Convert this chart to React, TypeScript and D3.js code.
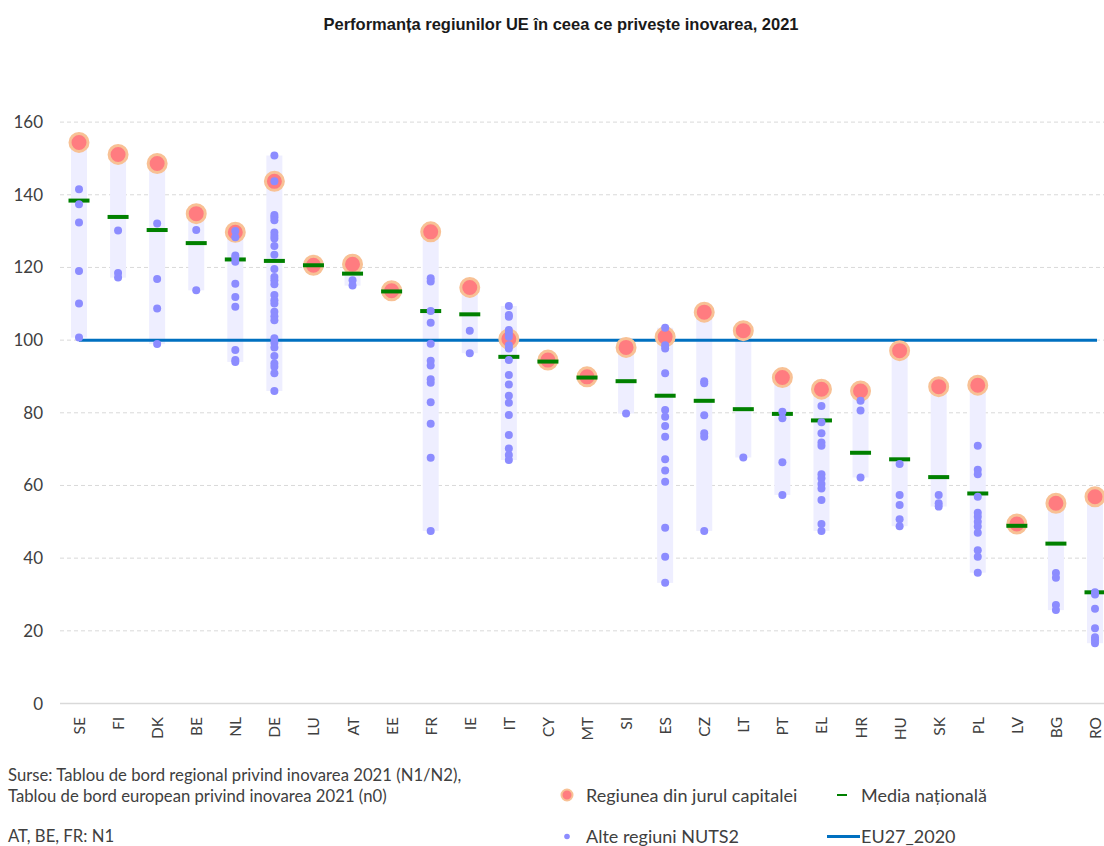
import * as React from "react"
import * as d3 from "d3"

// EU regional innovation performance 2021
const countries = ["SE", "FI", "DK", "BE", "NL", "DE", "LU", "AT", "EE", "FR", "IE", "IT", "CY", "MT",
    "SI", "ES", "CZ", "LT", "PT", "EL", "HR", "HU", "SK", "PL", "LV", "BG", "RO"]

const capitalRegion = [154.4, 151.1, 148.6, 134.8, 129.7, 143.7, 120.6, 120.9, 113.6, 129.8, 114.5, 100.3,
    94.5, 89.9, 98.0, 100.9, 107.7, 102.6, 89.7, 86.5, 86.0, 97.1, 87.2, 87.6, 49.4, 55.1, 56.9]

const nationalAverage = [138.4, 133.9, 130.3, 126.7, 122.2, 121.8, 120.6, 118.3, 113.4, 108.0, 107.1, 95.4,
    94.1, 89.7, 88.7, 84.7, 83.3, 81.0, 79.7, 77.9, 69.0, 67.2, 62.3, 57.8, 48.9, 44.0, 30.6]

const otherRegions: number[][] = [
    [141.5, 137.4, 132.4, 119.0, 110.1, 100.7],
    [130.2, 118.5, 117.2],
    [132.1, 116.8, 108.7, 98.9],
    [130.3, 113.7],
    [130.0, 128.3, 123.3, 122.6, 121.6, 115.5, 111.9, 109.2, 97.3, 94.5, 94.0],
    [150.8, 143.7, 134.4, 133.8, 133.0, 129.6, 128.7, 128.0, 125.9, 123.5, 119.6, 117.4, 116.5, 115.4,
        112.4, 111.0, 110.1, 107.8, 106.6, 105.5, 100.5, 99.3, 98.0, 95.6, 93.6, 92.7, 90.9, 86.0],
    [],
    [116.5, 115.0],
    [],
    [117.0, 116.1, 108.0, 104.8, 99.0, 94.3, 93.0, 89.2, 88.3, 82.9, 77.0, 67.6, 47.5],
    [102.6, 96.4],
    [109.4, 106.9, 106.4, 102.8, 101.9, 100.9, 98.6, 97.7, 94.5, 90.4, 87.8, 84.7, 82.8, 79.4, 73.9,
        70.2, 68.4, 67.0],
    [],
    [],
    [79.8],
    [103.4, 98.6, 97.7, 90.9, 80.8, 78.9, 76.4, 73.4, 67.2, 64.1, 61.0, 48.4, 40.4, 33.2],
    [88.7, 88.1, 79.3, 74.4, 73.4, 47.5],
    [67.7],
    [80.3, 78.5, 66.4, 57.4],
    [81.9, 77.4, 74.4, 71.8, 70.9, 63.1, 62.0, 60.4, 59.2, 56.0, 49.4, 47.5],
    [83.3, 80.6, 62.2],
    [65.9, 57.4, 54.6, 50.7, 48.8],
    [57.4, 55.1, 54.2],
    [70.9, 64.3, 63.1, 56.9, 52.5, 51.4, 50.0, 48.7, 47.0, 42.2, 40.4, 36.0],
    [],
    [35.9, 34.6, 27.1, 25.7],
    [30.6, 30.0, 26.1, 20.7, 18.2, 17.5, 16.6],
]

const yTicks = [0, 20, 40, 60, 80, 100, 120, 140, 160]
const euAverage = 100

const legendItems = ["Regiunea din jurul capitalei", "Media națională", "Alte regiuni NUTS2", "EU27_2020"]
const sourceLines = ["Surse: Tablou de bord regional privind inovarea 2021 (N1/N2),",
    "Tablou de bord european privind inovarea 2021 (n0)"]
const footNote = "AT, BE, FR: N1"

const WIDTH = 1104
const HEIGHT = 846
const FONT = "Lato, 'Open Sans', sans-serif"
const TEXT_COLOR = "#404040"

const Chart = (): JSX.Element => {
    const ref = React.useRef<SVGSVGElement | null>(null)

    React.useEffect(() => {
        const svg = d3.select(ref.current)
        svg.selectAll("*").remove()

        const x = d3.scalePoint<string>().domain(countries).range([79, 1095])
        const y = d3.scaleLinear().domain([0, 160]).range([703.5, 122.1])

        // title
        svg.append("text")
            .attr("x", 561).attr("y", 30)
            .attr("text-anchor", "middle")
            .attr("font-family", "Arial, 'Liberation Sans', sans-serif")
            .attr("font-weight", "bold")
            .attr("font-size", 16.5)
            .attr("fill", "#1a1a1a")
            .text("Performanța regiunilor UE în ceea ce privește inovarea, 2021")

        // grid
        const grid = svg.append("g")
        grid.selectAll("line")
            .data(yTicks.filter(t => t > 0))
            .enter().append("line")
            .attr("x1", 60).attr("x2", WIDTH)
            .attr("y1", d => y(d)).attr("y2", d => y(d))
            .attr("stroke", "#d9d9d9")
            .attr("stroke-dasharray", "4,3")
        svg.append("line")
            .attr("x1", 60).attr("x2", WIDTH)
            .attr("y1", y(0)).attr("y2", y(0))
            .attr("stroke", "#d9d9d9").attr("stroke-width", 1.5)

        // y axis labels
        svg.append("g").selectAll("text")
            .data(yTicks)
            .enter().append("text")
            .attr("x", 43).attr("y", d => y(d) + 6)
            .attr("text-anchor", "end")
            .attr("font-family", FONT).attr("font-size", 17)
            .attr("fill", TEXT_COLOR)
            .text(d => String(d))

        // x axis labels (rotated, aligned at the top)
        svg.append("g").selectAll("text")
            .data(countries)
            .enter().append("text")
            .attr("transform", d => "translate(" + (x(d)! + 6) + ",717) rotate(-90)")
            .attr("text-anchor", "end")
            .attr("font-family", FONT).attr("font-size", 15.5)
            .attr("fill", TEXT_COLOR)
            .text(d => d)

        // range bars
        svg.append("g").selectAll("rect")
            .data(countries)
            .enter().append("rect")
            .attr("x", d => x(d)! - 8)
            .attr("width", 16)
            .attr("y", (d, i) => y(d3.max([capitalRegion[i], ...otherRegions[i]])!))
            .attr("height", (d, i) => {
                const vals = [capitalRegion[i], ...otherRegions[i]]
                return y(d3.min(vals)!) - y(d3.max(vals)!)
            })
            .attr("fill", "#eeeeff")

        // EU line
        svg.append("line")
            .attr("x1", x(countries[0])!).attr("x2", x(countries[countries.length - 1])! + 2)
            .attr("y1", y(euAverage)).attr("y2", y(euAverage))
            .attr("stroke", "#0070c0").attr("stroke-width", 3)

        // capital regions
        svg.append("g").selectAll("circle")
            .data(countries)
            .enter().append("circle")
            .attr("cx", d => x(d)!)
            .attr("cy", (d, i) => y(capitalRegion[i]))
            .attr("r", 9)
            .attr("fill", "#ff7c80")
            .attr("stroke", "#f8c195").attr("stroke-width", 3)

        // national averages
        svg.append("g").selectAll("rect")
            .data(countries)
            .enter().append("rect")
            .attr("x", d => x(d)! - 10.5)
            .attr("y", (d, i) => y(nationalAverage[i]) - 2)
            .attr("width", 21).attr("height", 4)
            .attr("fill", "#008000")

        // other NUTS2 regions
        const pts: { c: string, v: number }[] = []
        countries.forEach((c, i) => otherRegions[i].forEach(v => pts.push({ c, v })))
        svg.append("g").selectAll("circle")
            .data(pts)
            .enter().append("circle")
            .attr("cx", d => x(d.c)!)
            .attr("cy", d => y(d.v))
            .attr("r", 4)
            .attr("fill", "#8c8cff")

        // sources
        const notes = svg.append("g")
            .attr("font-family", FONT).attr("font-size", 16.7).attr("fill", TEXT_COLOR)
        sourceLines.forEach((s, i) => {
            notes.append("text").attr("x", 8).attr("y", 781 + i * 21).text(s)
        })
        notes.append("text").attr("x", 8).attr("y", 841.5).text(footNote)

        // legend
        const lg = svg.append("g")
            .attr("font-family", FONT).attr("font-size", 18).attr("fill", TEXT_COLOR)
        lg.append("circle").attr("cx", 567).attr("cy", 795).attr("r", 5.5)
            .attr("fill", "#ff7c80").attr("stroke", "#f8c195").attr("stroke-width", 2)
        lg.append("text").attr("x", 586).attr("y", 801.5).text(legendItems[0])
        lg.append("rect").attr("x", 837).attr("y", 794).attr("width", 10).attr("height", 2)
            .attr("fill", "#008000")
        lg.append("text").attr("x", 861).attr("y", 801.5).text(legendItems[1])
        lg.append("circle").attr("cx", 567).attr("cy", 836.5).attr("r", 2.8).attr("fill", "#8c8cff")
        lg.append("text").attr("x", 586).attr("y", 843).text(legendItems[2])
        lg.append("line").attr("x1", 827).attr("x2", 860).attr("y1", 836.5).attr("y2", 836.5)
            .attr("stroke", "#0070c0").attr("stroke-width", 3)
        lg.append("text").attr("x", 861).attr("y", 843).text(legendItems[3])
    }, [])

    return (
        <svg ref={ref} width={WIDTH} height={HEIGHT}
            style={{ position: "absolute", left: 0, top: 0, background: "#fff" }} />
    )
}

export default function App(): JSX.Element {
    return <Chart />
}
